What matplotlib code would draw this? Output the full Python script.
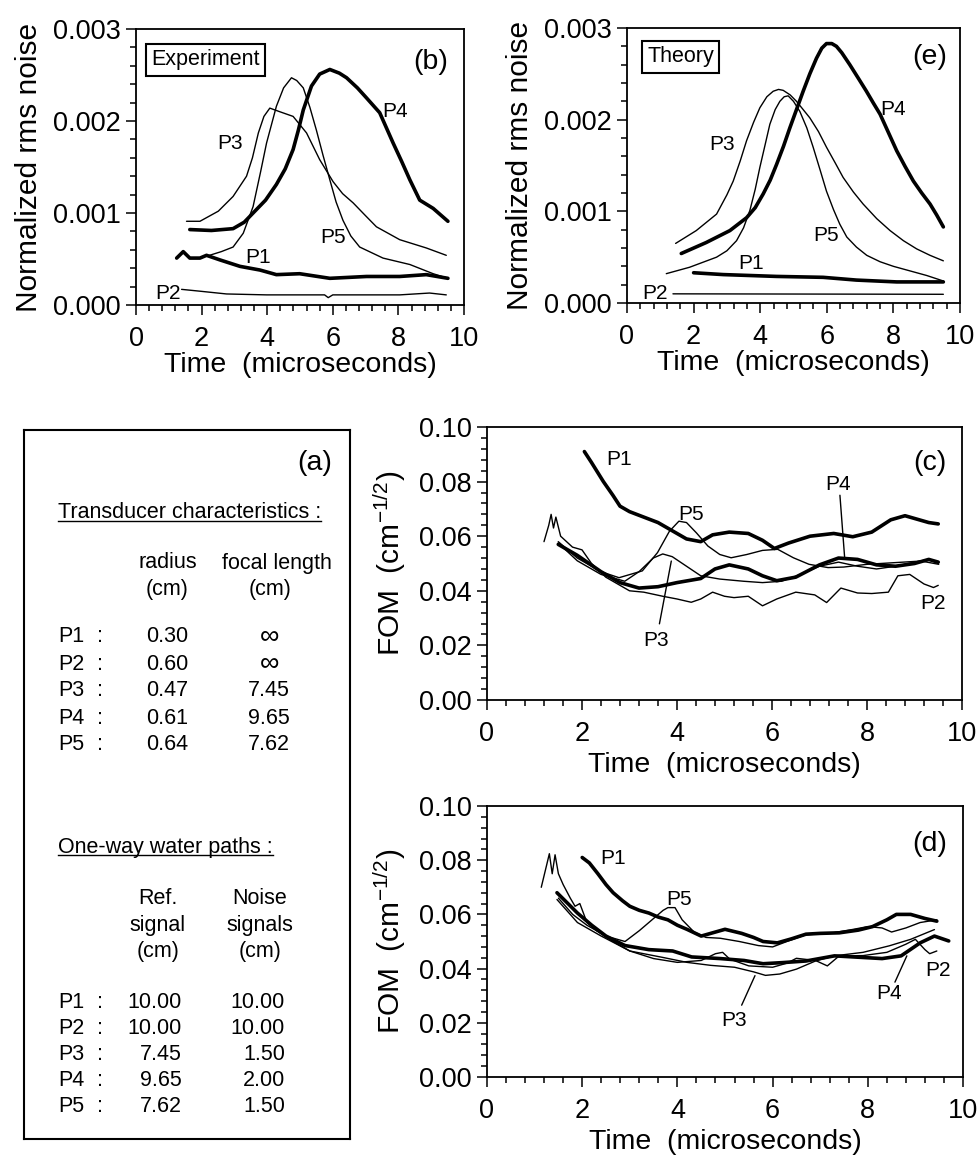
import matplotlib
matplotlib.use("Agg")
import matplotlib.pyplot as plt
from matplotlib.ticker import MultipleLocator, FormatStrFormatter

plt.rcParams['font.family'] = ['Liberation Sans', 'DejaVu Sans']
plt.rcParams['mathtext.default'] = 'regular'

# ---- (b) Experiment: normalized rms noise vs time (us) ----
exp_P1 = [(1.24, 0.00051), (1.44, 0.00058), (1.64, 0.00051), (1.95, 0.00051), (2.15, 0.00054),
          (2.56, 0.00049), (3.17, 0.00042), (3.78, 0.00038), (4.28, 0.00033), (4.99, 0.00034),
          (5.91, 0.00029), (7.03, 0.00031), (8.04, 0.00031), (8.85, 0.00033), (9.51, 0.00029)]
exp_P2 = [(1.39, 0.00017), (1.95, 0.00015), (2.76, 0.00012), (3.98, 0.00011), (5.0, 0.00011),
          (5.75, 0.00011), (5.86, 0.00008), (6.0, 0.00011), (8.04, 0.00011), (8.95, 0.00013),
          (9.46, 0.00011)]
exp_P3 = [(1.54, 0.00091), (1.95, 0.00091), (2.51, 0.00102), (2.96, 0.00118), (3.37, 0.00140),
          (3.55, 0.00160), (3.73, 0.00187), (3.9, 0.00205), (4.08, 0.00214), (4.39, 0.00210),
          (4.79, 0.00205), (5.2, 0.00187), (5.6, 0.00158), (6.01, 0.00134), (6.3, 0.00121),
          (6.62, 0.00111), (7.0, 0.00097), (7.33, 0.00085), (8.04, 0.00071), (8.85, 0.00062),
          (9.46, 0.00054)]
exp_P4 = [(1.64, 0.00082), (2.3, 0.00081), (2.96, 0.00083), (3.3, 0.00090), (3.57, 0.00100),
          (3.95, 0.00114), (4.28, 0.00131), (4.55, 0.00148), (4.79, 0.00169), (4.95, 0.00190),
          (5.1, 0.00212), (5.35, 0.00238), (5.6, 0.00251), (5.91, 0.00256), (6.2, 0.00252),
          (6.42, 0.00247), (6.75, 0.00236), (7.03, 0.00225), (7.43, 0.00209), (7.84, 0.00176),
          (8.1, 0.00156), (8.35, 0.00136), (8.65, 0.00114), (9.06, 0.00105), (9.51, 0.00091)]
exp_P5 = [(2.15, 0.00053), (2.6, 0.00058), (2.96, 0.00063), (3.27, 0.00078), (3.57, 0.00107),
          (3.8, 0.00145), (3.98, 0.00176), (4.28, 0.00216), (4.5, 0.00236), (4.74, 0.00247),
          (4.9, 0.00244), (5.1, 0.00236), (5.3, 0.00215), (5.5, 0.00190), (5.7, 0.00163),
          (5.91, 0.00136), (6.1, 0.00112), (6.31, 0.00092), (6.55, 0.00075), (6.82, 0.00063),
          (7.53, 0.00051), (8.35, 0.00044), (9.06, 0.00034), (9.51, 0.00029)]

# ---- (e) Theory ----
th_P1 = [(2.0, 0.00033), (2.89, 0.00031), (4.49, 0.00029), (5.89, 0.00028), (6.89, 0.00025),
         (8.1, 0.00023), (9.5, 0.00023)]
th_P2 = [(1.38, 0.00010), (9.5, 0.000095)]
th_P3 = [(1.46, 0.00065), (2.08, 0.00079), (2.69, 0.00097), (3.0, 0.00118), (3.19, 0.00133),
         (3.4, 0.00155), (3.59, 0.00177), (3.8, 0.00197), (3.99, 0.00213), (4.2, 0.00225),
         (4.39, 0.00231), (4.55, 0.00233), (4.69, 0.00232), (4.9, 0.00227), (5.09, 0.00220),
         (5.49, 0.00202), (5.75, 0.00187), (5.99, 0.00170), (6.25, 0.00153), (6.49, 0.00137),
         (6.8, 0.00121), (7.09, 0.00108), (7.5, 0.00092), (7.9, 0.00079), (8.3, 0.00068),
         (8.7, 0.00059), (9.1, 0.00052), (9.5, 0.00046)]
th_P4 = [(1.63, 0.00054), (2.38, 0.00066), (3.09, 0.00079), (3.59, 0.00093), (3.85, 0.00104),
         (4.09, 0.00119), (4.3, 0.00134), (4.49, 0.00151), (4.7, 0.00171), (4.89, 0.00191),
         (5.09, 0.00211), (5.29, 0.00231), (5.49, 0.00250), (5.69, 0.00267), (5.85, 0.00278),
         (5.99, 0.00283), (6.15, 0.00283), (6.29, 0.00280), (6.45, 0.00273), (6.69, 0.00260),
         (6.95, 0.00245), (7.19, 0.00231), (7.4, 0.00218), (7.6, 0.00206), (7.85, 0.00186),
         (8.1, 0.00166), (8.35, 0.00149), (8.6, 0.00133), (8.85, 0.00120), (9.1, 0.00108),
         (9.3, 0.00096), (9.5, 0.00083)]
th_P5 = [(1.18, 0.00032), (1.88, 0.00039), (2.69, 0.00050), (3.0, 0.00057), (3.29, 0.00068),
         (3.5, 0.00082), (3.69, 0.00101), (3.85, 0.00124), (3.99, 0.00148), (4.15, 0.00173),
         (4.29, 0.00195), (4.45, 0.00211), (4.59, 0.00220), (4.72, 0.00225), (4.84, 0.00226),
         (5.0, 0.00220), (5.19, 0.00209), (5.4, 0.00191), (5.59, 0.00170), (5.8, 0.00145),
         (5.99, 0.00122), (6.2, 0.00102), (6.39, 0.00086), (6.6, 0.00072), (6.89, 0.00061),
         (7.2, 0.00052), (7.6, 0.00045), (8.0, 0.00040), (8.4, 0.00036), (9.0, 0.00030),
         (9.5, 0.00024)]

# ---- (c) FOM ----
c_P1 = [(2.05, 0.091), (2.2, 0.087), (2.45, 0.080), (2.65, 0.075), (2.8, 0.071), (3.0, 0.069),
        (3.3, 0.067), (3.6, 0.065), (3.9, 0.062), (4.2, 0.059), (4.5, 0.058), (4.75, 0.0605),
        (5.1, 0.0615), (5.5, 0.061), (5.8, 0.0585), (6.05, 0.0555), (6.35, 0.0575), (6.8, 0.060),
        (7.3, 0.061), (7.7, 0.0598), (8.1, 0.0615), (8.5, 0.066), (8.8, 0.0675), (9.1, 0.066),
        (9.3, 0.065), (9.5, 0.0645)]
c_P2 = [(1.2, 0.058), (1.3, 0.064), (1.35, 0.068), (1.4, 0.063), (1.45, 0.067), (1.55, 0.060),
        (1.8, 0.056), (2.0, 0.055), (2.2, 0.050), (2.5, 0.045), (2.8, 0.042), (3.0, 0.040),
        (3.3, 0.0395), (3.7, 0.038), (4.0, 0.037), (4.3, 0.0358), (4.5, 0.037), (4.75, 0.0395),
        (5.0, 0.038), (5.2, 0.0375), (5.5, 0.038), (5.8, 0.0345), (6.1, 0.037), (6.5, 0.0395),
        (6.9, 0.0385), (7.15, 0.0357), (7.45, 0.041), (7.8, 0.0392), (8.1, 0.039), (8.45, 0.0395),
        (8.65, 0.0455), (8.9, 0.046), (9.2, 0.0425), (9.4, 0.0412), (9.5, 0.042)]
c_P3 = [(1.5, 0.0575), (1.9, 0.051), (2.4, 0.046), (2.9, 0.0435), (3.2, 0.047), (3.5, 0.052),
        (3.7, 0.0535), (3.9, 0.0525), (4.2, 0.049), (4.5, 0.0455), (4.9, 0.0443), (5.4, 0.0435),
        (5.8, 0.043), (6.2, 0.0435), (6.6, 0.046), (7.0, 0.049), (7.4, 0.0505), (7.8, 0.049),
        (8.2, 0.048), (8.6, 0.049), (9.0, 0.0505), (9.3, 0.0515), (9.5, 0.050)]
c_P4 = [(1.5, 0.057), (1.9, 0.053), (2.4, 0.047), (2.8, 0.043), (3.2, 0.041), (3.6, 0.0415),
        (4.0, 0.043), (4.5, 0.0445), (4.8, 0.048), (5.1, 0.0495), (5.5, 0.048), (5.8, 0.0455),
        (6.1, 0.0437), (6.5, 0.045), (7.0, 0.0495), (7.4, 0.052), (7.8, 0.0515), (8.2, 0.0495),
        (8.6, 0.049), (9.0, 0.050), (9.3, 0.0515), (9.5, 0.0505)]
c_P5 = [(1.5, 0.058), (1.9, 0.052), (2.4, 0.047), (2.78, 0.0448), (3.27, 0.0473), (3.59, 0.054),
        (3.84, 0.0618), (4.04, 0.0655), (4.2, 0.065), (4.41, 0.0612), (4.65, 0.0564), (4.9, 0.0533),
        (5.14, 0.0521), (5.47, 0.0533), (5.8, 0.0548), (6.12, 0.0552), (6.45, 0.0521), (6.78, 0.0497),
        (7.18, 0.0485), (7.51, 0.0487), (8.0, 0.0497), (8.57, 0.0503), (9.14, 0.0509), (9.51, 0.0497)]

# ---- (d) FOM ----
d_P1 = [(2.0, 0.081), (2.15, 0.079), (2.33, 0.075), (2.5, 0.071), (2.65, 0.068), (2.85, 0.065),
        (3.0, 0.063), (3.2, 0.0615), (3.4, 0.0605), (3.6, 0.059), (3.8, 0.058), (4.0, 0.056),
        (4.2, 0.0545), (4.5, 0.052), (4.8, 0.0535), (5.0, 0.0545), (5.35, 0.053), (5.6, 0.0515),
        (5.8, 0.050), (6.1, 0.0495), (6.4, 0.051), (6.7, 0.0527), (7.0, 0.053), (7.4, 0.0532),
        (7.8, 0.0542), (8.1, 0.0555), (8.4, 0.058), (8.6, 0.060), (8.9, 0.060), (9.2, 0.0585),
        (9.45, 0.0575)]
d_P2 = [(1.14, 0.070), (1.25, 0.078), (1.31, 0.0824), (1.37, 0.075), (1.43, 0.082), (1.5, 0.075),
        (1.6, 0.071), (1.75, 0.066), (1.85, 0.063), (1.95, 0.064), (2.1, 0.057), (2.3, 0.054),
        (2.6, 0.0505), (3.0, 0.0465), (3.5, 0.0437), (4.0, 0.0423), (4.5, 0.043), (4.8, 0.0455),
        (4.95, 0.046), (5.1, 0.0435), (5.5, 0.041), (6.0, 0.0405), (6.3, 0.042), (6.5, 0.0438),
        (6.9, 0.043), (7.15, 0.041), (7.4, 0.0447), (7.9, 0.0448), (8.4, 0.046), (8.8, 0.049),
        (9.0, 0.0508), (9.2, 0.047), (9.3, 0.0455), (9.45, 0.0465)]
d_P3 = [(1.47, 0.0655), (1.9, 0.057), (2.4, 0.052), (3.0, 0.0465), (3.7, 0.0441), (4.2, 0.0423),
        (4.7, 0.0412), (5.2, 0.0405), (5.6, 0.0388), (5.85, 0.0375), (6.15, 0.038), (6.5, 0.0398),
        (6.9, 0.0428), (7.3, 0.0447), (7.9, 0.046), (8.45, 0.0484), (8.9, 0.0508), (9.4, 0.0544)]
d_P4 = [(1.47, 0.068), (1.7, 0.064), (1.9, 0.0605), (2.2, 0.056), (2.5, 0.052), (2.9, 0.0485),
        (3.4, 0.047), (3.9, 0.0465), (4.3, 0.0443), (4.9, 0.0437), (5.4, 0.043), (5.8, 0.0418),
        (6.2, 0.0422), (6.7, 0.0428), (7.3, 0.0447), (7.8, 0.0442), (8.3, 0.0437), (8.7, 0.0447),
        (9.1, 0.0495), (9.4, 0.052), (9.7, 0.0502)]
d_P5 = [(1.5, 0.066), (1.8, 0.060), (2.1, 0.056), (2.5, 0.052), (2.9, 0.050), (3.2, 0.054),
        (3.5, 0.0585), (3.7, 0.0615), (3.8, 0.0625), (3.95, 0.0625), (4.1, 0.058), (4.35, 0.0535),
        (4.6, 0.0515), (4.9, 0.0512), (5.3, 0.050), (5.7, 0.0485), (6.0, 0.048), (6.3, 0.050),
        (6.7, 0.0525), (7.2, 0.053), (7.7, 0.0545), (8.0, 0.0555), (8.3, 0.055), (8.5, 0.0535),
        (8.8, 0.055), (9.1, 0.057), (9.45, 0.058)]

# ---- (a) table ----
probes = ['P1', 'P2', 'P3', 'P4', 'P5']
radius_cm = ['0.30', '0.60', '0.47', '0.61', '0.64']
focal_cm = ['\u221e', '\u221e', '7.45', '9.65', '7.62']
ref_path_cm = ['10.00', '10.00', '7.45', '9.65', '7.62']
noise_path_cm = ['10.00', '10.00', '1.50', '2.00', '1.50']

THICK, THIN = 2.6, 1.0
W, H = 978, 1167
fig = plt.figure(figsize=(W / 100, H / 100), dpi=100)


def axes_px(left, top, right, bottom):
    return fig.add_axes([left / W, 1 - bottom / H, (right - left) / W, (bottom - top) / H])


def style(ax, ymax, ystep, yminor, fmt):
    ax.set_xlim(0, 10)
    ax.set_ylim(0, ymax)
    ax.xaxis.set_major_locator(MultipleLocator(2))
    ax.xaxis.set_minor_locator(MultipleLocator(0.4))
    ax.yaxis.set_major_locator(MultipleLocator(ystep))
    ax.yaxis.set_minor_locator(MultipleLocator(yminor))
    ax.yaxis.set_major_formatter(FormatStrFormatter(fmt))
    ax.tick_params(which='both', direction='out', top=False, right=False, width=1.1)
    ax.tick_params(which='major', length=7, labelsize=19.5)
    ax.tick_params(which='minor', length=4)
    ax.tick_params(axis='x', pad=8)
    ax.tick_params(axis='y', pad=4)
    for s in ax.spines.values():
        s.set_linewidth(1.3)


def draw(ax, series):
    for pts, lw in series:
        t = [p[0] for p in pts]
        v = [p[1] for p in pts]
        ax.plot(t, v, color='black', lw=lw, solid_joinstyle='round', solid_capstyle='round')


def labels(ax, items):
    for name, t, v in items:
        ax.text(t, v, name, ha='center', va='center', fontsize=15)


def pointer(ax, start, end):
    ax.annotate('', xy=end, xytext=start,
                arrowprops=dict(arrowstyle='-', color='black', lw=1.0, shrinkA=0, shrinkB=0))


# (b) experiment
axb = axes_px(136, 29, 464, 305)
style(axb, 0.003, 0.001, 0.0002, '%.3f')
draw(axb, [(exp_P1, THICK), (exp_P2, THIN), (exp_P3, THIN), (exp_P4, THICK), (exp_P5, THIN)])
labels(axb, [('P3', 2.87, 0.00176), ('P4', 7.9, 0.0021), ('P5', 6.0, 0.00073),
             ('P1', 3.72, 0.00052), ('P2', 0.98, 0.00013)])
axb.text(0.212, 0.888, 'Experiment', transform=axb.transAxes, ha='center', va='center',
         fontsize=15.5, bbox=dict(boxstyle='square,pad=0.25', fc='white', ec='black', lw=1.5))
axb.text(0.951, 0.88, '(b)', transform=axb.transAxes, ha='right', va='center', fontsize=20.5)
axb.set_xlabel('Time  (microseconds)', fontsize=20.5, labelpad=0)
axb.set_ylabel('Normalized rms noise', fontsize=21.5, labelpad=7)

# (e) theory
axe = axes_px(627, 28, 960, 303)
style(axe, 0.003, 0.001, 0.0002, '%.3f')
draw(axe, [(th_P1, THICK), (th_P2, THIN), (th_P3, THIN), (th_P4, THICK), (th_P5, THIN)])
labels(axe, [('P3', 2.84, 0.00173), ('P4', 8.0, 0.00211), ('P5', 5.99, 0.00074),
             ('P1', 3.74, 0.00043), ('P2', 0.83, 0.00010)])
axe.text(0.161, 0.895, 'Theory', transform=axe.transAxes, ha='center', va='center',
         fontsize=15.5, bbox=dict(boxstyle='square,pad=0.25', fc='white', ec='black', lw=1.5))
axe.text(0.961, 0.895, '(e)', transform=axe.transAxes, ha='right', va='center', fontsize=20.5)
axe.set_xlabel('Time  (microseconds)', fontsize=20.5, labelpad=0)
axe.set_ylabel('Normalized rms noise', fontsize=21.5, labelpad=7)

fom_label = 'FOM  (cm$^{-1/2}$)'

# (c)
axc = axes_px(487, 427, 962, 700)
style(axc, 0.10, 0.02, 0.004, '%.2f')
draw(axc, [(c_P1, THICK), (c_P2, THIN), (c_P3, THIN), (c_P4, THICK), (c_P5, THIN)])
labels(axc, [('P1', 2.78, 0.088), ('P5', 4.29, 0.068), ('P4', 7.39, 0.079),
             ('P3', 3.55, 0.0218), ('P2', 9.39, 0.0352)])
pointer(axc, (7.43, 0.075), (7.53, 0.052))
pointer(axc, (3.63, 0.0279), (3.88, 0.0509))
axc.text(0.968, 0.868, '(c)', transform=axc.transAxes, ha='right', va='center', fontsize=20.5)
axc.set_xlabel('Time  (microseconds)', fontsize=20.5, labelpad=4)
axc.set_ylabel(fom_label, fontsize=21.5, labelpad=8)

# (d)
axd = axes_px(487, 806, 963, 1077)
style(axd, 0.10, 0.02, 0.004, '%.2f')
draw(axd, [(d_P1, THICK), (d_P2, THIN), (d_P3, THIN), (d_P4, THICK), (d_P5, THIN)])
labels(axd, [('P1', 2.65, 0.0806), ('P5', 4.04, 0.0654), ('P3', 5.18, 0.021),
             ('P4', 8.45, 0.0307), ('P2', 9.47, 0.0392)])
pointer(axd, (5.35, 0.0265), (5.63, 0.0374))
pointer(axd, (8.57, 0.035), (8.82, 0.0447))
axd.text(0.966, 0.86, '(d)', transform=axd.transAxes, ha='right', va='center', fontsize=20.5)
axd.set_xlabel('Time  (microseconds)', fontsize=20.5, labelpad=4)
axd.set_ylabel(fom_label, fontsize=21.5, labelpad=8)

# (a) table box, coordinates in pixels of the figure
axa = axes_px(24, 430, 350, 1139)
axa.set_xlim(24, 350)
axa.set_ylim(1139, 430)
axa.set_xticks([])
axa.set_yticks([])
for s in axa.spines.values():
    s.set_linewidth(1.5)

FS = 15.5
axa.text(332, 463, '(a)', ha='right', va='center', fontsize=20.5)
heads = [axa.text(58, 513, 'Transducer characteristics :', ha='left', va='center', fontsize=FS),
         axa.text(58, 847, 'One-way water paths :', ha='left', va='center', fontsize=FS)]
axa.text(168, 563, 'radius', ha='center', va='center', fontsize=FS)
axa.text(167, 590, '(cm)', ha='center', va='center', fontsize=FS)
axa.text(277, 563, 'focal length', ha='center', va='center', fontsize=FS)
axa.text(270, 590, '(cm)', ha='center', va='center', fontsize=FS)
for i, name in enumerate(probes):
    y = 637 + 27 * i
    axa.text(58, y, name, ha='left', va='center', fontsize=FS)
    axa.text(100, y, ':', ha='center', va='center', fontsize=FS)
    axa.text(188, y, radius_cm[i], ha='right', va='center', fontsize=FS)
    if focal_cm[i] == '\u221e':
        axa.text(270, y, focal_cm[i], ha='center', va='center', fontsize=FS + 4)
    else:
        axa.text(290, y, focal_cm[i], ha='right', va='center', fontsize=FS)

for j, word in enumerate(['Ref.', 'signal', '(cm)']):
    axa.text(158, 898 + 27 * j, word, ha='center', va='center', fontsize=FS)
for j, word in enumerate(['Noise', 'signals', '(cm)']):
    axa.text(260, 898 + 27 * j, word, ha='center', va='center', fontsize=FS)
for i, name in enumerate(probes):
    y = 1002 + 26 * i
    axa.text(58, y, name, ha='left', va='center', fontsize=FS)
    axa.text(100, y, ':', ha='center', va='center', fontsize=FS)
    axa.text(182, y, ref_path_cm[i], ha='right', va='center', fontsize=FS)
    axa.text(285, y, noise_path_cm[i], ha='right', va='center', fontsize=FS)

# underline the two headings
fig.canvas.draw()
renderer = fig.canvas.get_renderer()
inv = axa.transData.inverted()
for t in heads:
    bb = t.get_window_extent(renderer)
    (x0, y0), (x1, y1) = inv.transform([(bb.x0, bb.y0), (bb.x1, bb.y1)])
    yb = max(y0, y1) - 3
    axa.plot([x0, x1], [yb, yb], color='black', lw=1.0)

fig.savefig('out.png', dpi=100)
